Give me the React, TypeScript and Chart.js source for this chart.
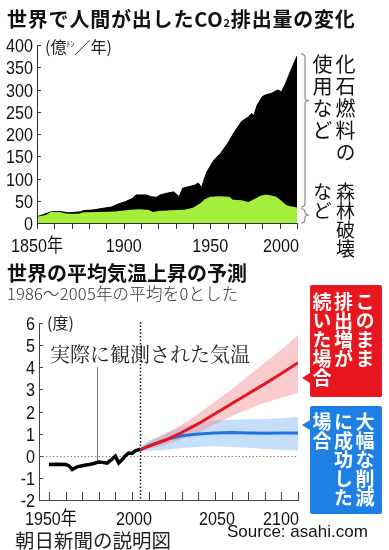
import React, { useEffect, useRef } from "react";
import { Chart, registerables } from "chart.js";

Chart.register(...registerables);

// ---- Top chart: CO2 emissions (億トン/年) ----
const totalYears = [1850, 1858, 1863, 1868, 1872, 1875, 1877, 1882, 1888, 1893, 1897, 1901, 1905, 1907, 1913, 1916, 1919, 1921, 1925, 1929, 1932, 1934, 1938, 1941, 1943, 1945, 1946, 1948, 1952, 1956, 1960, 1964, 1968, 1972, 1974, 1975, 1977, 1980, 1982, 1985, 1989, 1991, 1993, 1995, 1997, 2000];
const totalEmissions = [14, 25, 26, 23, 24, 25, 28, 29, 33, 36, 43, 48, 55, 63, 63, 59, 58, 63, 67, 70, 59, 78, 82, 85, 90, 80, 93, 115, 141, 157, 179, 205, 228, 239, 246, 240, 265, 284, 288, 291, 299, 295, 310, 329, 348, 375];
const forestYears = [1850, 1855, 1858, 1863, 1866, 1869, 1874, 1877, 1885, 1895, 1900, 1904, 1909, 1914, 1917, 1920, 1925, 1930, 1935, 1940, 1944, 1947, 1950, 1955, 1961, 1963, 1968, 1972, 1976, 1979, 1982, 1985, 1988, 1991, 1994, 1997, 2000];
const forestEmissions = [14, 18, 25, 25, 22, 21, 21, 24, 25, 26, 28, 30, 31, 30, 25, 27, 28, 29, 30, 34, 44, 54, 59, 60, 59, 52, 51, 47, 55, 61, 64, 62, 59, 50, 40, 37, 35];
const co2YTicks = [0, 50, 100, 150, 200, 250, 300, 350, 400];
const co2TickYears = [1850, 1860, 1870, 1880, 1890, 1900, 1910, 1920, 1930, 1940, 1950, 1960, 1970, 1980, 1990, 2000];
const co2LabelYears = [1850, 1900, 1950, 2000];
const co2Labels = ["1850年", "1900", "1950", "2000"];

// ---- Bottom chart: temperature anomaly (度) ----
const obsYears = [1950, 1955, 1960, 1962, 1964, 1967, 1970, 1974, 1977, 1980, 1982, 1985, 1988, 1990, 1992, 1994, 1996, 1998, 2000, 2002, 2005];
const obsTemps = [-0.4, -0.38, -0.4, -0.45, -0.62, -0.5, -0.45, -0.4, -0.35, -0.28, -0.3, -0.33, -0.15, -0.02, -0.33, -0.18, 0.0, 0.12, 0.1, 0.22, 0.3];
const projYears = [2005, 2010, 2020, 2030, 2040, 2050, 2060, 2070, 2080, 2090, 2100];
const highMid = [0.28, 0.42, 0.7, 1.05, 1.45, 1.9, 2.35, 2.8, 3.25, 3.72, 4.2];
const highLow = [0.22, 0.3, 0.5, 0.75, 1.05, 1.42, 1.78, 2.1, 2.4, 2.62, 2.85];
const highHigh = [0.36, 0.6, 1.0, 1.4, 1.9, 2.45, 3.0, 3.6, 4.2, 4.8, 5.45];
const lowMid = [0.28, 0.45, 0.72, 0.9, 0.98, 1.03, 1.05, 1.03, 1.02, 1.03, 1.03];
const lowLow = [0.22, 0.22, 0.27, 0.35, 0.4, 0.44, 0.4, 0.36, 0.3, 0.27, 0.24];
const lowHigh = [0.36, 0.68, 1.0, 1.3, 1.48, 1.6, 1.62, 1.66, 1.66, 1.7, 1.75];
const tempYTicks = [-2, -1, 0, 1, 2, 3, 4, 5, 6];
const tempTickYears = [1950, 1960, 1970, 1980, 1990, 2000, 2010, 2020, 2030, 2040, 2050, 2060, 2070, 2080, 2090, 2100];
const tempLabelYears = [1950, 2000, 2050, 2100];
const tempLabels = ["1950年", "2000", "2050", "2100"];
const presentYear = 2005;
const leaderYear = 1979;
const leaderTop = 4.0;
const leaderBottom = -0.3;

const pts = (xs: number[], ys: number[]) => xs.map((x, i) => ({ x, y: ys[i] }));

const TICK_FONT = "19px 'Liberation Sans', 'Noto Sans CJK JP', sans-serif";

function condText(ctx: CanvasRenderingContext2D, t: string, x: number, y: number, align: CanvasTextAlign) {
  ctx.save();
  ctx.translate(x, y);
  ctx.scale(0.85, 1);
  ctx.font = TICK_FONT;
  ctx.fillStyle = "#111";
  ctx.textAlign = align;
  ctx.textBaseline = "alphabetic";
  ctx.fillText(t, 0, 0);
  ctx.restore();
}

function line(ctx: CanvasRenderingContext2D, x1: number, y1: number, x2: number, y2: number) {
  ctx.beginPath();
  ctx.moveTo(x1, y1);
  ctx.lineTo(x2, y2);
  ctx.stroke();
}

function brace(ctx: CanvasRenderingContext2D, x0: number, yTop: number, yMid: number, yBot: number) {
  ctx.beginPath();
  ctx.moveTo(x0 - 4, yTop);
  ctx.quadraticCurveTo(x0, yTop, x0, yTop + 4);
  ctx.lineTo(x0, yMid - 3);
  ctx.quadraticCurveTo(x0, yMid, x0 + 4, yMid);
  ctx.quadraticCurveTo(x0, yMid, x0, yMid + 3);
  ctx.lineTo(x0, yBot - 4);
  ctx.quadraticCurveTo(x0, yBot, x0 - 4, yBot);
  ctx.stroke();
}

const co2AxesPlugin = {
  id: "co2Axes",
  afterDatasetsDraw(chart: any) {
    const { ctx, chartArea, scales } = chart;
    const { left, right, top, bottom } = chartArea;
    const x = scales.x, y = scales.y;
    ctx.save();
    ctx.strokeStyle = "#333";
    ctx.lineWidth = 1;
    line(ctx, left + 0.5, top, left + 0.5, bottom + 1);
    line(ctx, left, bottom + 0.5, right + 1, bottom + 0.5);
    co2YTicks.forEach((v) => {
      const py = Math.round(y.getPixelForValue(v)) + 0.5;
      line(ctx, left, py, left + 4, py);
      condText(ctx, String(v), left - 4, py + 6.5, "right");
    });
    co2TickYears.forEach((v) => {
      const px = Math.round(x.getPixelForValue(v)) + 0.5;
      line(ctx, px, bottom, px, bottom + 6);
    });
    co2LabelYears.forEach((v, i) => {
      const px = x.getPixelForValue(v);
      const last = i === co2LabelYears.length - 1;
      condText(ctx, co2Labels[i], last ? px + 2 : px, bottom + 29, last ? "right" : "center");
    });
    // braces
    ctx.strokeStyle = "#8a8a8a";
    ctx.lineWidth = 1.2;
    const bx = right + 8;
    brace(ctx, bx, y.getPixelForValue(380), y.getPixelForValue(275), y.getPixelForValue(36));
    brace(ctx, bx, y.getPixelForValue(32), y.getPixelForValue(18), y.getPixelForValue(0));
    ctx.restore();
  },
};

const tempAxesPlugin = {
  id: "tempAxes",
  beforeDatasetsDraw(chart: any) {
    const { ctx, chartArea, scales } = chart;
    const { left, right, top, bottom } = chartArea;
    const x = scales.x, y = scales.y;
    ctx.save();
    // zero reference
    ctx.strokeStyle = "#888";
    ctx.lineWidth = 1;
    ctx.setLineDash([1.5, 2]);
    const py0 = Math.round(y.getPixelForValue(0)) + 0.5;
    line(ctx, left, py0, right, py0);
    // present-day line
    ctx.strokeStyle = "#111";
    ctx.lineWidth = 1.5;
    ctx.setLineDash([1.5, 2]);
    const pxp = Math.round(x.getPixelForValue(presentYear)) + 0.5;
    line(ctx, pxp, top - 1, pxp, bottom);
    ctx.setLineDash([]);
    // leader line for observed annotation
    ctx.strokeStyle = "#777";
    ctx.lineWidth = 1;
    const pxl = Math.round(x.getPixelForValue(leaderYear)) + 0.5;
    line(ctx, pxl, y.getPixelForValue(leaderTop), pxl, y.getPixelForValue(leaderBottom));
    ctx.restore();
  },
  afterDatasetsDraw(chart: any) {
    const { ctx, chartArea, scales } = chart;
    const { left, right, top, bottom } = chartArea;
    const x = scales.x, y = scales.y;
    ctx.save();
    ctx.strokeStyle = "#444";
    ctx.lineWidth = 1;
    line(ctx, left + 0.5, top, left + 0.5, bottom + 1);
    line(ctx, left, bottom + 0.5, right + 1, bottom + 0.5);
    tempYTicks.forEach((v) => {
      const py = Math.round(y.getPixelForValue(v)) + 0.5;
      line(ctx, left, py, left + 4, py);
      condText(ctx, v < 0 ? "-" + Math.abs(v) : String(v), left - 4, py + 6.5, "right");
    });
    tempTickYears.forEach((v) => {
      const px = Math.round(x.getPixelForValue(v)) + 0.5;
      line(ctx, px, bottom, px, bottom - 8);
    });
    tempLabelYears.forEach((v, i) => {
      const px = x.getPixelForValue(v);
      const last = i === tempLabelYears.length - 1;
      condText(ctx, tempLabels[i], last ? px + 1 : px + 2, bottom + 25, last ? "right" : "center");
    });
    ctx.restore();
  },
};

function CO2Chart() {
  const ref = useRef<HTMLCanvasElement | null>(null);
  useEffect(() => {
    if (!ref.current) return;
    const chart = new Chart(ref.current, {
      type: "line",
      data: {
        datasets: [
          {
            data: pts(forestYears, forestEmissions),
            borderWidth: 0,
            borderColor: "#a6ee3c",
            backgroundColor: "#a6ee3c",
            fill: "origin",
            pointRadius: 0,
            tension: 0,
          },
          {
            data: pts(totalYears, totalEmissions),
            borderWidth: 1,
            borderColor: "#000",
            backgroundColor: "#000",
            fill: "origin",
            pointRadius: 0,
            tension: 0,
          },
        ],
      },
      options: {
        responsive: false,
        animation: false,
        events: [],
        layout: { padding: { left: 37, right: 92, top: 45, bottom: 37 } },
        plugins: { legend: { display: false }, tooltip: { enabled: false } },
        scales: {
          x: { type: "linear", min: 1850, max: 2000, display: false },
          y: { min: 0, max: 400, display: false },
        },
      },
      plugins: [co2AxesPlugin],
    } as any);
    return () => chart.destroy();
  }, []);
  return <canvas ref={ref} width={389} height={260} style={{ position: "absolute", left: 0, top: 0, width: 389, height: 260 }} />;
}

function TempChart() {
  const ref = useRef<HTMLCanvasElement | null>(null);
  useEffect(() => {
    if (!ref.current) return;
    const base = { pointRadius: 0, tension: 0 };
    const chart = new Chart(ref.current, {
      type: "line",
      data: {
        datasets: [
          { ...base, data: pts(obsYears, obsTemps), borderColor: "#000", borderWidth: 3.5, fill: false },
          { ...base, data: pts(projYears, highMid), borderColor: "#e3161d", borderWidth: 3, fill: false },
          { ...base, data: pts(projYears, lowMid), borderColor: "#1f74e2", borderWidth: 3, fill: false },
          { ...base, data: pts(projYears, highHigh), borderWidth: 0, borderColor: "rgba(0,0,0,0)", backgroundColor: "rgba(244,140,145,0.45)", fill: "+1" },
          { ...base, data: pts(projYears, highLow), borderWidth: 0, borderColor: "rgba(0,0,0,0)", fill: false },
          { ...base, data: pts(projYears, lowHigh), borderWidth: 0, borderColor: "rgba(0,0,0,0)", backgroundColor: "rgba(150,195,245,0.55)", fill: "+1" },
          { ...base, data: pts(projYears, lowLow), borderWidth: 0, borderColor: "rgba(0,0,0,0)", fill: false },
        ],
      },
      options: {
        responsive: false,
        animation: false,
        events: [],
        layout: { padding: { left: 39, right: 91, top: 23, bottom: 50 } },
        plugins: { legend: { display: false }, tooltip: { enabled: false } },
        scales: {
          x: { type: "linear", min: 1944, max: 2100, display: false },
          y: { min: -2, max: 6, display: false },
        },
      },
      plugins: [tempAxesPlugin],
    } as any);
    return () => chart.destroy();
  }, []);
  return <canvas ref={ref} width={389} height={250} style={{ position: "absolute", left: 0, top: 300, width: 389, height: 250 }} />;
}

const JP = "'Noto Sans CJK JP', sans-serif";

const abs = (left: number, top: number, extra: React.CSSProperties = {}): React.CSSProperties => ({
  position: "absolute",
  left,
  top,
  whiteSpace: "nowrap",
  fontFamily: JP,
  color: "#111",
  margin: 0,
  ...extra,
});

const vert = (left: number, top: number, size: number, lh: number, extra: React.CSSProperties = {}): React.CSSProperties =>
  abs(left, top, { writingMode: "vertical-rl", fontSize: size, lineHeight: lh + "px", ...extra });

export default function App() {
  return (
    <div style={{ position: "absolute", left: 0, top: 0, width: 389, height: 550, background: "#fff", overflow: "hidden" }}>
      <CO2Chart />
      <TempChart />
      <div style={abs(7, 9, { fontSize: 20, lineHeight: "20px", fontWeight: 700, letterSpacing: 0.8 })}>
        世界で人間が出したCO<span style={{ fontSize: 11 }}>2</span>排出量の変化
      </div>
      <div style={abs(45, 36, { fontSize: 16, lineHeight: "16px", color: "#222" })}>
        (億<span style={{ fontSize: 8, verticalAlign: "6px" }}>ﾄﾝ</span>／年)
      </div>
      <div style={vert(311, 54, 20, 23, { letterSpacing: 2 })}>
        化石燃料の<br />使用など
      </div>
      <div style={vert(311, 182, 19, 23)}>
        森林破壊<br />など
      </div>
      <div style={abs(7, 263, { fontSize: 20, lineHeight: "20px", fontWeight: 700 })}>世界の平均気温上昇の予測</div>
      <div style={abs(7, 285, { fontSize: 16.5, lineHeight: "16.5px", color: "#333", fontWeight: 300, letterSpacing: 0.2 })}>1986〜2005年の平均を0とした</div>
      <div style={abs(47, 314, { fontSize: 16, lineHeight: "16px", color: "#222" })}>(度)</div>
      <div style={abs(50, 344, { fontSize: 20, lineHeight: "20px", color: "#222", fontFamily: "'Noto Serif CJK JP', serif" })}>実際に観測された気温</div>

      <div style={{ position: "absolute", left: 310, top: 285, width: 72, height: 112, background: "#e8161e", borderRadius: 2 }} />
      <div style={{ position: "absolute", left: 302, top: 373, width: 0, height: 0, borderTop: "5px solid transparent", borderBottom: "5px solid transparent", borderRight: "8px solid #e8161e" }} />
      <div style={vert(311, 292, 19, 21.5, { color: "#fff", fontWeight: 700 })}>
        このまま<br />排出増が<br />続いた場合
      </div>

      <div style={{ position: "absolute", left: 310, top: 406, width: 72, height: 108, background: "#1e80e4", borderRadius: 2 }} />
      <div style={{ position: "absolute", left: 302, top: 420, width: 0, height: 0, borderTop: "5px solid transparent", borderBottom: "5px solid transparent", borderRight: "8px solid #1e80e4" }} />
      <div style={vert(311, 412, 19, 21.5, { color: "#fff", fontWeight: 700 })}>
        大幅な削減<br />に成功した<br />場合
      </div>

      <div style={abs(15, 530, { fontSize: 19.5, lineHeight: "19.5px", color: "#222" })}>朝日新聞の説明図</div>
      <div style={abs(227, 523, { fontSize: 17, lineHeight: "17px", fontFamily: "'Liberation Sans', sans-serif", color: "#111" })}>Source: asahi.com</div>
    </div>
  );
}
